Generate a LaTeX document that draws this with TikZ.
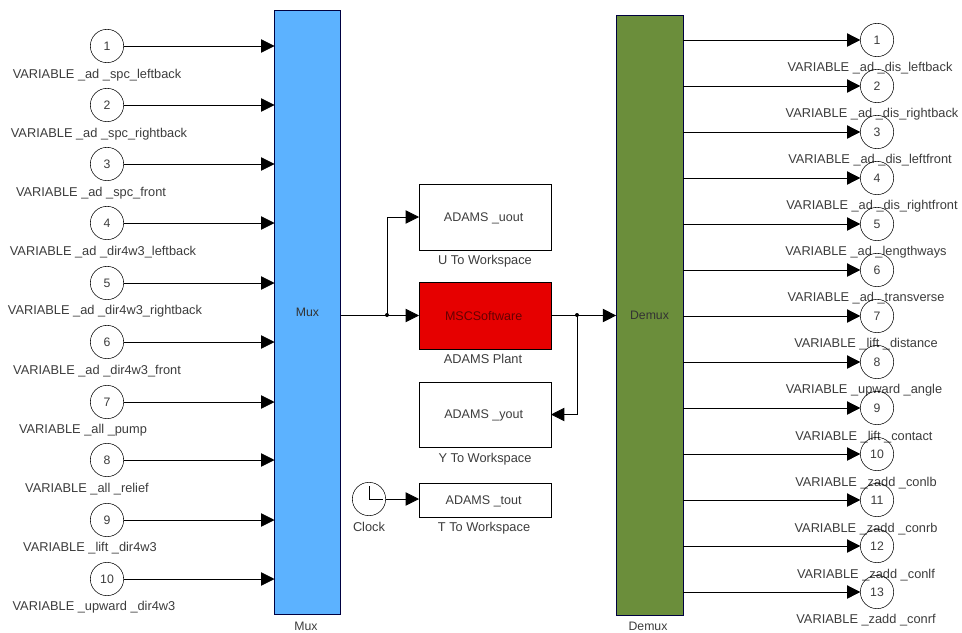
\documentclass[tikz,border=0pt]{standalone}
\usepackage{fontspec}
\setmainfont{Liberation Sans}
\usetikzlibrary{arrows.meta}
\definecolor{muxblue}{RGB}{92,178,255}
\definecolor{demuxgreen}{RGB}{107,142,59}
\definecolor{plantred}{RGB}{230,0,0}
\definecolor{labelgray}{RGB}{60,60,60}
\tikzset{
	port/.style={draw, circle, minimum size=25pt, inner sep=0pt, outer sep=0pt, text=labelgray, font=\fontsize{9.2}{11}\selectfont},
	varlabel/.style={inner sep=0pt, text=labelgray, text depth=0pt, font=\fontsize{9.6}{11}\selectfont},
	busbar/.style={draw=black!75!blue, minimum width=49.5pt, inner sep=0pt, outer sep=0pt, text depth=0pt, text=black!80, font=\fontsize{9.2}{11}\selectfont},
	block/.style={draw, minimum width=99pt, inner sep=0pt, outer sep=0pt, text depth=0pt, text=labelgray, font=\fontsize{9.4}{11}\selectfont, execute at end node=\kern2pt},
	signal/.style={-{Triangle[length=10pt,width=10pt]}, semithick, black},
	wire/.style={semithick, black},
	junction/.style={circle, fill=black, inner sep=0pt, minimum size=3pt}
}
\begin{document}
\begin{tikzpicture}[x=0.75pt, y=-0.75pt]
	\useasboundingbox (0,0) rectangle (962,632);

	% Mux and Demux
	\node[busbar, fill=muxblue, minimum height=453pt] (mux) at (307.5,312.5) {Mux};
	\node[busbar, fill=demuxgreen, minimum width=50pt, minimum height=450pt] (demux) at (649.5,315) {Demux};
	\node[varlabel, font=\fontsize{9.2}{11}\selectfont] (muxname) at (306,626) {Mux};
	\node[varlabel, font=\fontsize{9.2}{11}\selectfont] (demuxname) at (648,626) {Demux};

	% inputs
	\foreach \i/\py/\lx/\ly/\txt in {
		1/46/97/74/{VARIABLE \_ad \_spc\_leftback},
		2/105/99/133/{VARIABLE \_ad \_spc\_rightback},
		3/164/91/192/{VARIABLE \_ad \_spc\_front},
		4/223/103/251/{VARIABLE \_ad \_dir4w3\_leftback},
		5/283/105/310/{VARIABLE \_ad \_dir4w3\_rightback},
		6/342/97/370/{VARIABLE \_ad \_dir4w3\_front},
		7/402/83/429/{VARIABLE \_all \_pump},
		8/460/87/488/{VARIABLE \_all \_relief},
		9/520/90/547/{VARIABLE \_lift \_dir4w3},
		10/579/94/606/{VARIABLE \_upward \_dir4w3}}{
		\node[port] (in\i) at (107,\py) {\i};
		\node[varlabel] (inname\i) at (\lx,\ly) {\txt};
		\draw[signal] (in\i) -- (in\i -| mux.west);
	}

	% outputs
	\foreach \i/\py/\lx/\ly/\txt in {
		1/40/870/67/{VARIABLE \_ad \_dis\_leftback},
		2/86/872/113/{VARIABLE \_ad \_dis\_rightback},
		3/132/870/159/{VARIABLE \_ad \_dis\_leftfront},
		4/178/872/205/{VARIABLE \_ad \_dis\_rightfront},
		5/224/866/251/{VARIABLE \_ad \_lengthways},
		6/270/866/297/{VARIABLE \_ad \_transverse},
		7/316/866/343/{VARIABLE \_lift \_distance},
		8/362/864/389/{VARIABLE \_upward \_angle},
		9/408/864/436/{VARIABLE \_lift \_contact},
		10/454/866/482/{VARIABLE \_zadd \_conlb},
		11/500/866/528/{VARIABLE \_zadd \_conrb},
		12/546/866/574/{VARIABLE \_zadd \_conlf},
		13/592/866/619/{VARIABLE \_zadd \_conrf}}{
		\node[port] (out\i) at (877,\py) {\i};
		\node[varlabel] (outname\i) at (\lx,\ly) {\txt};
		\draw[signal] (out\i -| demux.east) -- (out\i);
	}

	% workspace blocks
	\node[block, minimum height=49.5pt] (uout) at (485,217) {ADAMS \_uout};
	\node[block, fill=plantred, minimum height=50pt] (plant) at (485,315.5) {\textcolor{black!60!red}{MSCSoftware}};
	\node[block, minimum height=49pt] (yout) at (485,414.5) {ADAMS \_yout};
	\node[block, minimum height=25.5pt] (tout) at (485,500) {ADAMS \_tout};
	\node[varlabel] (uname) at (485,260) {U To Workspace};
	\node[varlabel] (pname) at (483,359) {ADAMS Plant};
	\node[varlabel] (yname) at (485,458) {Y To Workspace};
	\node[varlabel] (tname) at (484,527) {T To Workspace};

	% clock
	\node[port] (clock) at (369,499) {};
	\node[varlabel] (clockname) at (369,527) {Clock};
	\coordinate (clockhub) at (clock.center);
	\draw[wire] (clockhub) ++(0,-13) -- (clockhub) -- ++(14,0);

	% connections
	\node[junction] (split) at (387,315) {};
	\node[junction] (tap) at (577,315) {};
	\draw[signal] (mux.east |- plant.west) -- (plant.west);
	\draw[signal] (split.center) |- (uout.west);
	\draw[signal] (plant.east) -- (demux.west |- plant.east);
	\draw[signal] (tap.center) |- (yout.east);
	\draw[signal] (clock) -- (clock -| tout.west);

\end{tikzpicture}
\end{document}
